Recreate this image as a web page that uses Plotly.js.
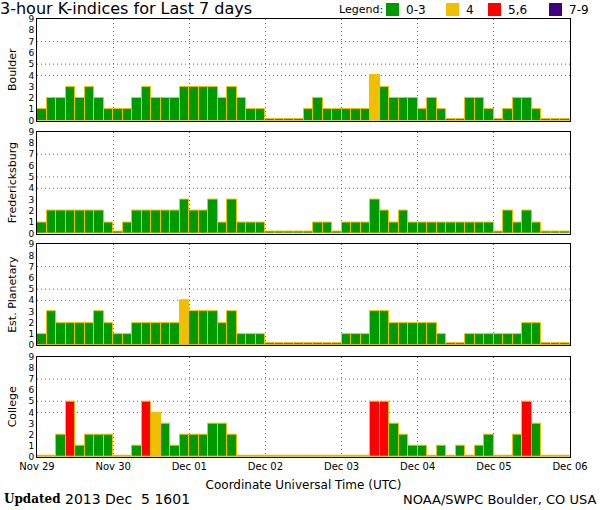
<!DOCTYPE html>
<html>
<head>
<meta charset="utf-8">
<script src="https://cdn.plot.ly/plotly-3.0.1.min.js"></script>
<style>html,body{margin:0;padding:0;background:#fff;}#chart{width:600px;height:510px;}</style>
</head>
<body>
<div id="chart"></div>
<script>
// ---- data ----
const startDay = '2013-11-29';
const endDay = '2013-12-06';
const stations = ['Boulder', 'Fredericksburg', 'Est. Planetary', 'College'];
const boulder = [1,2,2,3,2,3,2,1, 1,1,2,3,2,2,2,3, 3,3,3,2,3,2,1,1, 0,0,0,0,1,2,1,1, 1,1,1,4,3,2,2,2, 1,2,1,0,0,2,2,1, 0,1,2,2,1,0,0,0];
const fredericksburg = [1,2,2,2,2,2,2,1, 0,1,2,2,2,2,2,3, 2,2,3,1,3,1,1,1, 0,0,0,0,0,1,1,0, 1,1,1,3,2,1,2,1, 1,1,1,1,1,1,1,1, 0,2,1,2,1,0,0,0];
const planetary = [1,3,2,2,2,2,3,2, 1,1,2,2,2,2,2,4, 3,3,3,2,3,1,1,1, 0,0,0,0,0,0,0,0, 1,1,1,3,3,2,2,2, 2,2,1,0,0,1,1,1, 1,1,1,2,2,0,0,0];
const college = [0,0,2,5,1,2,2,2, 0,0,1,5,4,3,1,2, 2,2,3,3,2,0,0,0, 0,0,0,0,0,0,0,0, 0,0,0,5,5,3,2,1, 1,0,1,0,1,0,1,2, 0,0,2,5,3,0,0,0];
const legendLabels = ['0-3', '4', '5,6', '7-9'];
const legendColors = ['#009900', '#f0c000', '#ff0000', '#400080'];
const gridLevels = [4, 5, 7];

// ---- helpers ----
const series = [boulder, fredericksburg, planetary, college];
const STEP = 3 * 3600 * 1000;
const t0 = Date.parse(startDay + 'T00:00:00Z');
function fmt(ms) { return new Date(ms).toISOString().slice(0, 19).replace('T', ' '); }
function colorFor(v) {
  if (v <= 3) return legendColors[0];
  if (v === 4) return legendColors[1];
  if (v <= 6) return legendColors[2];
  return legendColors[3];
}
const xs = boulder.map((_, i) => fmt(t0 + (i + 0.5) * STEP));

// pixel -> paper helpers (plot area: x 37..570, y 19..457)
const PL = 37, PW = 533, PB = 457, PH = 438;
const px = v => (v - PL) / PW;
const py = v => (PB - v) / PH;

// panel domains (top to bottom)
const domains = [[0.768, 1.0], [0.510, 0.743], [0.255, 0.486], [0.0, 0.229]];

const traces = [];
const layout = {
  width: 600, height: 510,
  margin: {l: 37, r: 30, t: 19, b: 53, pad: 0},
  paper_bgcolor: '#fff', plot_bgcolor: '#fff',
  font: {family: 'DejaVu Sans, sans-serif', color: '#000'},
  barmode: 'overlay',
  bargap: 0,
  title: {
    text: '3-hour K-indices for Last 7 days',
    font: {size: 16, family: 'DejaVu Sans, sans-serif', color: '#000'},
    x: 0.0, xanchor: 'left', xref: 'container',
    y: 1 - 8 / 510, yanchor: 'middle', yref: 'container', pad: {l: 0, t: 0}
  },
  showlegend: false,
  shapes: [],
  annotations: [
    {text: '<b>Updated</b>', xref: 'paper', yref: 'paper', x: px(2), y: py(499),
     xanchor: 'left', yanchor: 'middle', showarrow: false,
     font: {family: 'DejaVu Serif, serif', size: 12, color: '#000'}},
    {text: '2013 Dec&nbsp; 5 1601', xref: 'paper', yref: 'paper', x: px(63), y: py(499),
     xanchor: 'left', yanchor: 'middle', showarrow: false,
     font: {family: 'DejaVu Sans, sans-serif', size: 14, color: '#000'}},
    {text: 'NOAA/SWPC Boulder, CO USA', xref: 'paper', yref: 'paper', x: px(598), y: py(499),
     xanchor: 'right', yanchor: 'middle', showarrow: false,
     font: {family: 'DejaVu Sans, sans-serif', size: 13, color: '#000'}},
    {text: 'Legend:', xref: 'paper', yref: 'paper', x: px(337), y: py(10),
     xanchor: 'left', yanchor: 'middle', showarrow: false,
     font: {family: 'DejaVu Sans, sans-serif', size: 11, color: '#000'}}
  ]
};

// manual legend
const legendBoxes = [386, 446, 488, 549];
legendLabels.forEach((lab, i) => {
  const x0 = legendBoxes[i];
  layout.shapes.push({type: 'rect', xref: 'paper', yref: 'paper',
    x0: px(x0), x1: px(x0 + 13), y0: py(16), y1: py(3),
    fillcolor: legendColors[i], line: {width: 0}});
  layout.annotations.push({text: lab, xref: 'paper', yref: 'paper', x: px(x0 + 18), y: py(10),
    xanchor: 'left', yanchor: 'middle', showarrow: false,
    font: {family: 'DejaVu Sans, sans-serif', size: 12, color: '#000'}});
});

series.forEach((vals, k) => {
  const n = k + 1;
  const xa = n === 1 ? 'x' : 'x' + n;
  const ya = n === 1 ? 'y' : 'y' + n;
  traces.push({
    type: 'bar', x: xs, y: vals.map(v => (v === 0 ? 0.15 : v)), customdata: vals,
    hovertemplate: '%{x}: K %{customdata}<extra>' + stations[k] + '</extra>',
    width: STEP, xaxis: xa, yaxis: ya, showlegend: false,
    marker: {color: vals.map(colorFor), line: {color: '#f0c000', width: 1}}
  });
  layout['xaxis' + (n === 1 ? '' : n)] = {
    anchor: ya, matches: n === 1 ? undefined : 'x',
    type: 'date', range: [startDay, endDay],
    dtick: 86400000, tick0: startDay, tickformat: '%b %d',
    showgrid: true, gridcolor: '#666', griddash: '1px,3px', gridwidth: 1,
    showline: true, mirror: true, linecolor: '#000', linewidth: 1,
    ticks: '', showticklabels: n === 4, tickfont: {size: 10},
    zeroline: false, fixedrange: true,
    title: n === 4 ? {text: 'Coordinate Universal Time (UTC)', font: {size: 12}, standoff: 9} : undefined
  };
  layout['yaxis' + (n === 1 ? '' : n)] = {
    anchor: xa, domain: domains[k], range: [0, 9], dtick: 1, tick0: 0,
    showgrid: false, zeroline: false, showline: true, mirror: true,
    linecolor: '#000', linewidth: 1, ticks: '', tickfont: {size: 9},
    fixedrange: true,
    title: {text: stations[k], font: {size: 11}, standoff: 9}
  };
  gridLevels.forEach(g => {
    layout.shapes.push({type: 'line', xref: xa + ' domain', yref: ya, x0: 0, x1: 1, y0: g, y1: g,
      line: {color: '#666', width: 1, dash: '1px,3px'}, layer: 'below'});
  });
});

Plotly.newPlot('chart', traces, layout, {displayModeBar: false});
</script>
</body>
</html>
